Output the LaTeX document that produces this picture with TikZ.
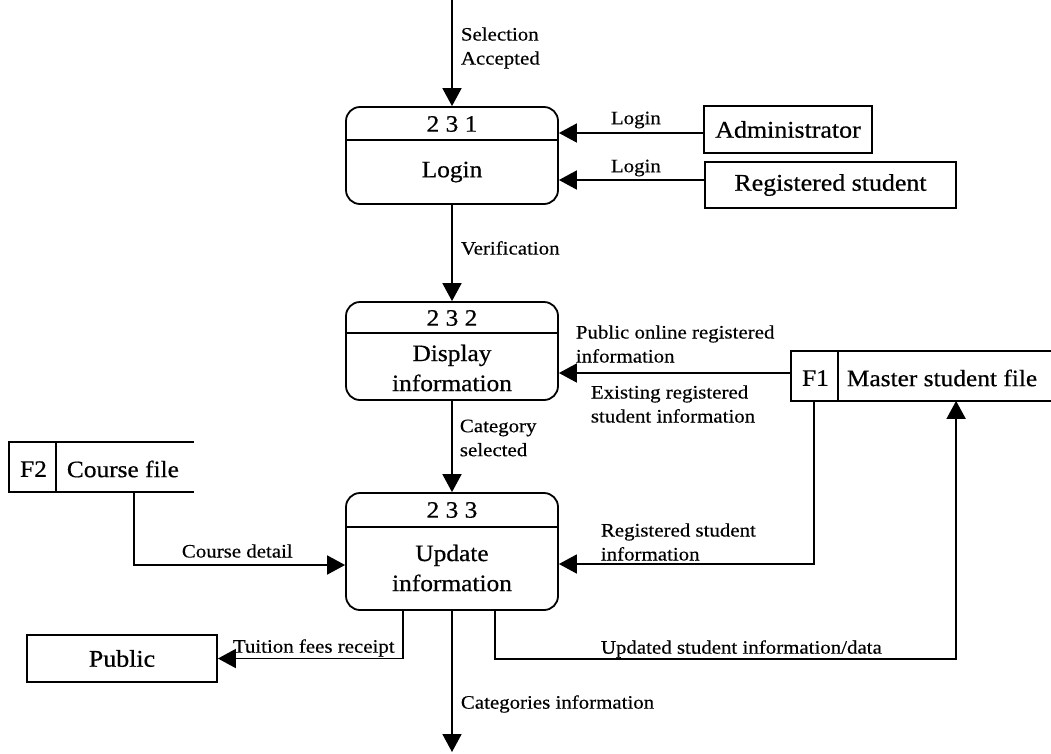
\documentclass[tikz,border=0pt]{standalone}
\usepackage{fontspec}
\setmainfont{Liberation Serif}
\newfontfamily\bigf[FakeStretch=1.08,FakeBold=0.6]{Liberation Serif}
\newfontfamily\smallf[FakeStretch=1.1,FakeBold=0.4]{Liberation Serif}
\usetikzlibrary{arrows.meta}
\begin{document}
\begin{tikzpicture}[x=1pt,y=-1pt,line width=1.8pt,
  flow/.style={-{Triangle[length=18pt,width=19pt]}},
  proc/.style={draw,rounded corners=14pt,minimum width=212pt,inner sep=0pt},
  ent/.style={draw,inner sep=0pt,font=\bigf\fontsize{24}{27}\selectfont},
  big/.style={inner sep=0pt,font=\bigf\fontsize{23.5}{30}\selectfont,align=center},
  lbl/.style={inner sep=0pt,anchor=west,align=left,font=\smallf\fontsize{19}{24}\selectfont},
  store/.style={inner sep=0pt,minimum height=48pt}]
\useasboundingbox (0,0) rectangle (1051,753);

% processes
\node[proc,minimum height=97pt] (p1) at (452,155.5) {};
\draw (p1.west |- 0,140) -- (p1.east |- 0,140);
\node[big] (p1n) at (452,124) {2 3 1};
\node[big] (p1t) at (452,172) {Login};

\node[proc,minimum height=98pt] (p2) at (452,351) {};
\draw (p2.west |- 0,333) -- (p2.east |- 0,333);
\node[big] (p2n) at (452,318) {2 3 2};
\node[big] (p2t) at (452,368) {Display\\information};

\node[proc,minimum height=117pt] (p3) at (452,551.5) {};
\draw (p3.west |- 0,527) -- (p3.east |- 0,527);
\node[big] (p3n) at (452,510) {2 3 3};
\node[big] (p3t) at (452,568) {Update\\information};

% external entities
\node[ent,minimum width=168pt,minimum height=47pt] (adm) at (788,129.5) {Administrator};
\node[ent,minimum width=251pt,minimum height=46pt] (rs) at (830.5,185) {Registered student};
\node[ent,minimum width=190pt,minimum height=47pt] (pub) at (122,658.5) {Public};

% data stores
\node[store,minimum width=259pt] (f1) at (921.5,376) {};
\draw (f1.north east) -- (f1.north west) -- (f1.south west) -- (f1.south east);
\draw ([xshift=47pt]f1.north west) -- ([xshift=47pt]f1.south west);
\node[big] (f1id) at (815.5,378) {F1};
\node[big,anchor=west] (f1t) at (846,378) {Master student file};

\node[store,minimum width=183pt] (f2) at (101.5,467) {};
\draw (f2.north east) -- (f2.north west) -- (f2.south west) -- (f2.south east);
\draw ([xshift=47pt]f2.north west) -- ([xshift=47pt]f2.south west);
\node[big] (f2id) at (33.5,469) {F2};
\node[big,anchor=west] (f2t) at (66,469) {Course file};

% flows
\coordinate (topin) at (452,0);
\coordinate (botout) at (452,752);
\draw[flow] (topin) -- (p1.north);
\draw[flow] (adm.west |- 0,133) -- (p1.east |- 0,133);
\draw[flow] (rs.west |- 0,180) -- (p1.east |- 0,180);
\draw[flow] (p1.south) -- (p2.north);
\draw[flow] (f1.west |- 0,373) -- (p2.east |- 0,373);
\draw[flow] (p2.south) -- (p3.north);
\draw[flow] ([xshift=125pt]f2.south west) |- (p3.west |- 0,565);
\draw[flow] ([xshift=23pt]f1.south west) |- (p3.east |- 0,564);
\draw[flow] ([xshift=-49pt]p3.south) |- (pub.east);
\draw[flow] ([xshift=43pt]p3.south) -- ++(0,48) -| ([xshift=165pt]f1.south west);
\draw[flow] (p3.south) -- (botout);

% labels
\node[lbl] (l1) at (460,48) {Selection\\Accepted};
\node[lbl] (l2) at (610,120) {Login};
\node[lbl] (l3) at (610,168) {Login};
\node[lbl] (l4) at (460,248) {Verification};
\node[lbl] (l5) at (575,344) {Public online registered\\information};
\node[lbl] (l6) at (590,404) {Existing registered\\student information};
\node[lbl] (l7) at (459,438) {Category\\selected};
\node[lbl] (l8) at (600,542) {Registered student\\information};
\node[lbl] (l9) at (181,551) {Course detail};
\node[lbl] (l10) at (232,648) {Tuition fees receipt};
\node[lbl] (l11) at (600,649) {Updated student information/data};
\node[lbl] (l12) at (460,704) {Categories information};
\end{tikzpicture}
\end{document}
